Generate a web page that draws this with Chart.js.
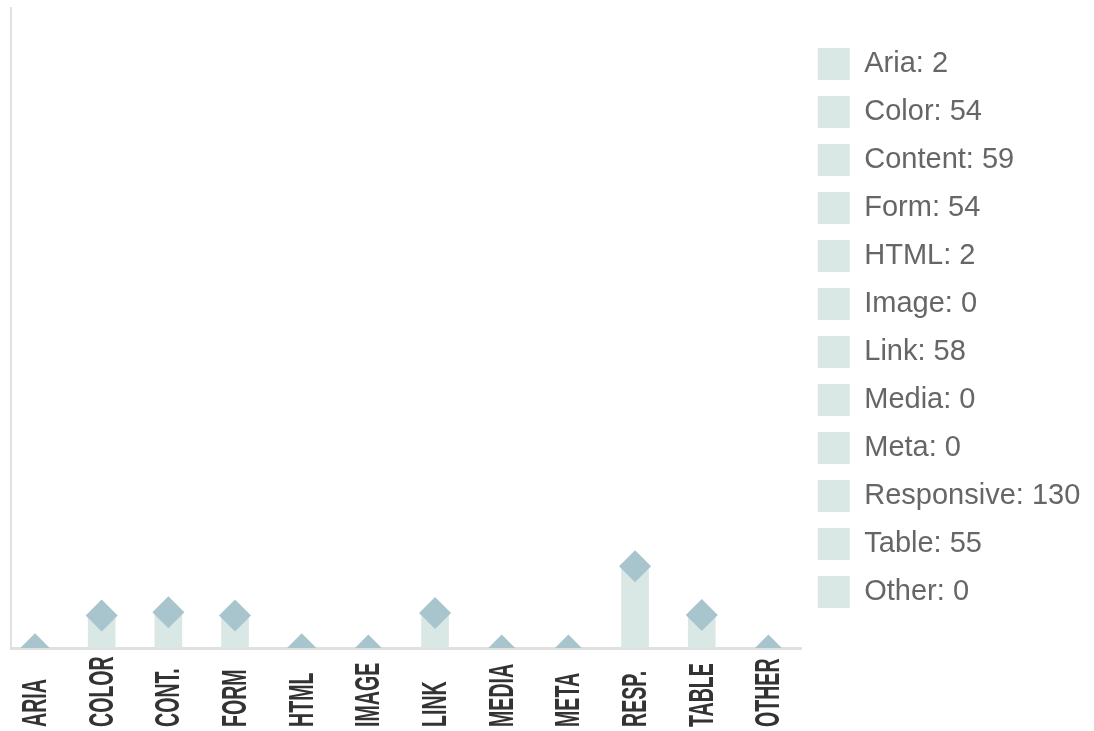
<!DOCTYPE html>
<html>
<head>
<meta charset="utf-8">
<script src="https://cdn.jsdelivr.net/npm/chart.js@4.4.1/dist/chart.umd.min.js"></script>
<style>
  html, body { margin: 0; padding: 0; background: #fff; }
  #wrap { width: 1094px; height: 731px; }
</style>
</head>
<body>
<div id="wrap"><canvas id="issueChart"></canvas></div>
<script>
// categories and counts
var names = ['Aria', 'Color', 'Content', 'Form', 'HTML', 'Image', 'Link', 'Media', 'Meta', 'Responsive', 'Table', 'Other'];
var shortLabels = ['ARIA', 'COLOR', 'CONT.', 'FORM', 'HTML', 'IMAGE', 'LINK', 'MEDIA', 'META', 'RESP.', 'TABLE', 'OTHER'];
var counts = [2, 54, 59, 54, 2, 0, 58, 0, 0, 130, 55, 0];

var barColor = 'rgb(217, 232, 229)';
var pointColor = 'rgb(168, 196, 204)';
var axisColor = '#e0e0e0';
var legendText = '#666';

var points = counts.map(function (v, i) { return { x: i, y: v }; });

// vertical, condensed category labels anchored to the bottom edge
var bottomLabels = {
  id: 'bottomLabels',
  afterDraw: function (chart) {
    var ctx = chart.ctx;
    var xs = chart.scales.x;
    var size = 35;
    ctx.save();
    ctx.fillStyle = '#333';
    ctx.font = 'bold ' + size + 'px "Liberation Sans", Arial, sans-serif';
    ctx.textAlign = 'left';
    ctx.textBaseline = 'alphabetic';
    shortLabels.forEach(function (lbl, i) {
      var px = xs.getPixelForValue(i);
      ctx.save();
      ctx.translate(px + 11, chart.height - 4);
      ctx.rotate(-Math.PI / 2);
      ctx.scale(0.56, 1);
      ctx.fillText(lbl, 0, 0);
      ctx.restore();
    });
    ctx.restore();
  }
};

// give the right-hand legend a bit more room than it measures
var widerLegend = {
  id: 'widerLegend',
  beforeLayout: function (chart) {
    var lg = chart.legend;
    if (lg && !lg._widened) {
      var fit = lg.fit;
      lg.fit = function () {
        fit.call(this);
        this.width += 17;
      };
      lg._widened = true;
    }
  }
};

new Chart(document.getElementById('issueChart'), {
  type: 'bar',
  data: {
    datasets: [{
      type: 'line',
      data: points,
      showLine: false,
      pointStyle: 'rectRot',
      pointRadius: 16,
      pointHoverRadius: 16,
      pointBackgroundColor: pointColor,
      pointBorderWidth: 0,
      order: 1
    }, {
      type: 'bar',
      data: points,
      backgroundColor: barColor,
      barThickness: 27,
      order: 2
    }]
  },
  options: {
    responsive: true,
    maintainAspectRatio: false,
    animation: false,
    layout: { autoPadding: false, padding: { left: 11, top: 8, right: 6, bottom: 83 } },
    plugins: {
      tooltip: { enabled: false },
      legend: {
        position: 'right',
        labels: {
          boxWidth: 32,
          boxHeight: 32,
          padding: 16,
          color: legendText,
          font: { family: '"Liberation Sans", Arial, sans-serif', size: 29 },
          generateLabels: function () {
            return names.map(function (n, i) {
              return {
                text: n + ': ' + counts[i],
                fillStyle: barColor,
                strokeStyle: barColor,
                fontColor: legendText,
                lineWidth: 0,
                hidden: false,
                index: i,
                datasetIndex: 1
              };
            });
          }
        },
        onClick: function () {}
      }
    },
    scales: {
      x: {
        type: 'linear',
        offset: false,
        min: -0.36,
        max: 11.5,
        ticks: { display: false },
        grid: { display: false, drawTicks: false },
        border: { display: true, color: axisColor, width: 3 }
      },
      y: {
        min: 4,
        max: 990,
        ticks: { display: false },
        grid: { display: false, drawTicks: false },
        border: { display: true, color: axisColor, width: 2 }
      }
    }
  },
  plugins: [bottomLabels, widerLegend]
});
</script>
</body>
</html>
